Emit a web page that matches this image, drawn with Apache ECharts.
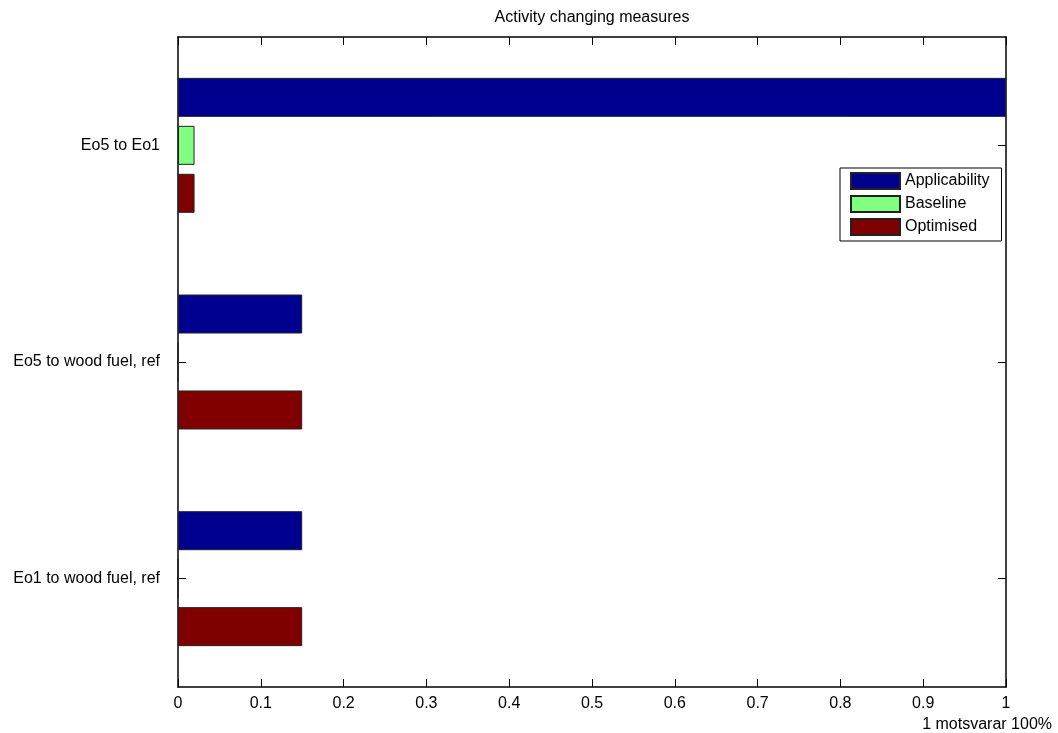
<!DOCTYPE html>
<html>
<head>
<meta charset="utf-8">
<script src="https://cdn.jsdelivr.net/npm/echarts@6/dist/echarts.min.js"></script>
<style>
html,body{margin:0;padding:0;background:#fff;}
#c{width:1058px;height:733px;}
</style>
</head>
<body>
<div id="c"></div>
<script>
// categories listed bottom to top
const categories = ['Eo1 to wood fuel, ref', 'Eo5 to wood fuel, ref', 'Eo5 to Eo1'];
const applicability = [0.15, 0.15, 1.0];
const baseline = [0, 0, 0.02];
const optimised = [0.15, 0.15, 0.02];
const seriesNames = ['Applicability', 'Baseline', 'Optimised'];
const colors = ['#00008F', '#80FF80', '#800000'];

const FONT = 'Liberation Sans, Arial, Helvetica, sans-serif';
const chart = echarts.init(document.getElementById('c'));

function axLine() { return { show: true, onZero: false, lineStyle: { color: '#000', width: 1.5 } }; }
function tick(extra) { return Object.assign({ show: true, inside: true, length: 8, lineStyle: { color: '#000', width: 1 } }, extra || {}); }

function mkSeries(name, data, color) {
  return {
    name: name,
    type: 'bar',
    data: data,
    xAxisIndex: 0,
    yAxisIndex: 0,
    barWidth: 39,
    barGap: '23%',
    itemStyle: { color: color, borderColor: '#222', borderWidth: 1 },
    emphasis: { disabled: true },
    animation: false
  };
}

chart.setOption({
  animation: false,
  backgroundColor: '#fff',
  textStyle: { fontFamily: FONT },
  grid: { left: 178, right: 52, top: 37, bottom: 46, containLabel: false },
  legend: {
    data: seriesNames,
    orient: 'vertical',
    left: 840,
    top: 168,
    itemWidth: 49,
    itemHeight: 16,
    itemGap: 5,
    padding: [4, 12, 5, 10],
    backgroundColor: '#fff',
    borderColor: '#000',
    borderWidth: 1,
    borderRadius: 0,
    icon: 'rect',
    textStyle: { fontFamily: FONT, fontSize: 16, color: '#000' }
  },
  xAxis: [
    {
      type: 'value', position: 'bottom', min: 0, max: 1, interval: 0.1,
      axisLine: axLine(), axisTick: tick(), splitLine: { show: false },
      axisLabel: { fontFamily: FONT, fontSize: 16, color: '#000', margin: 9,
        formatter: function (v) { return String(Math.round(v * 10) / 10); } }
    },
    {
      type: 'value', position: 'top', min: 0, max: 1, interval: 0.1,
      axisLine: axLine(), axisTick: tick(), splitLine: { show: false },
      axisLabel: { show: false }
    }
  ],
  yAxis: [
    {
      type: 'category', position: 'left', data: categories,
      axisLine: axLine(), axisTick: tick({ alignWithLabel: true }),
      axisLabel: { fontFamily: FONT, fontSize: 16, color: '#000', margin: 18 }
    },
    {
      type: 'category', position: 'right', data: categories,
      axisLine: axLine(), axisTick: tick({ alignWithLabel: true }),
      axisLabel: { show: false }
    }
  ],
  graphic: [
    { type: 'text', x: 592, y: 18, style: { text: 'Activity changing measures', font: '16px ' + FONT, fill: '#000', textAlign: 'center', textVerticalAlign: 'middle' } },
    { type: 'text', x: 1052, y: 725, style: { text: '1 motsvarar 100%', font: '16px ' + FONT, fill: '#000', textAlign: 'right', textVerticalAlign: 'middle' } }
  ],
  series: [
    mkSeries(seriesNames[0], applicability, colors[0]),
    mkSeries(seriesNames[1], baseline, colors[1]),
    mkSeries(seriesNames[2], optimised, colors[2])
  ]
});
</script>
</body>
</html>
